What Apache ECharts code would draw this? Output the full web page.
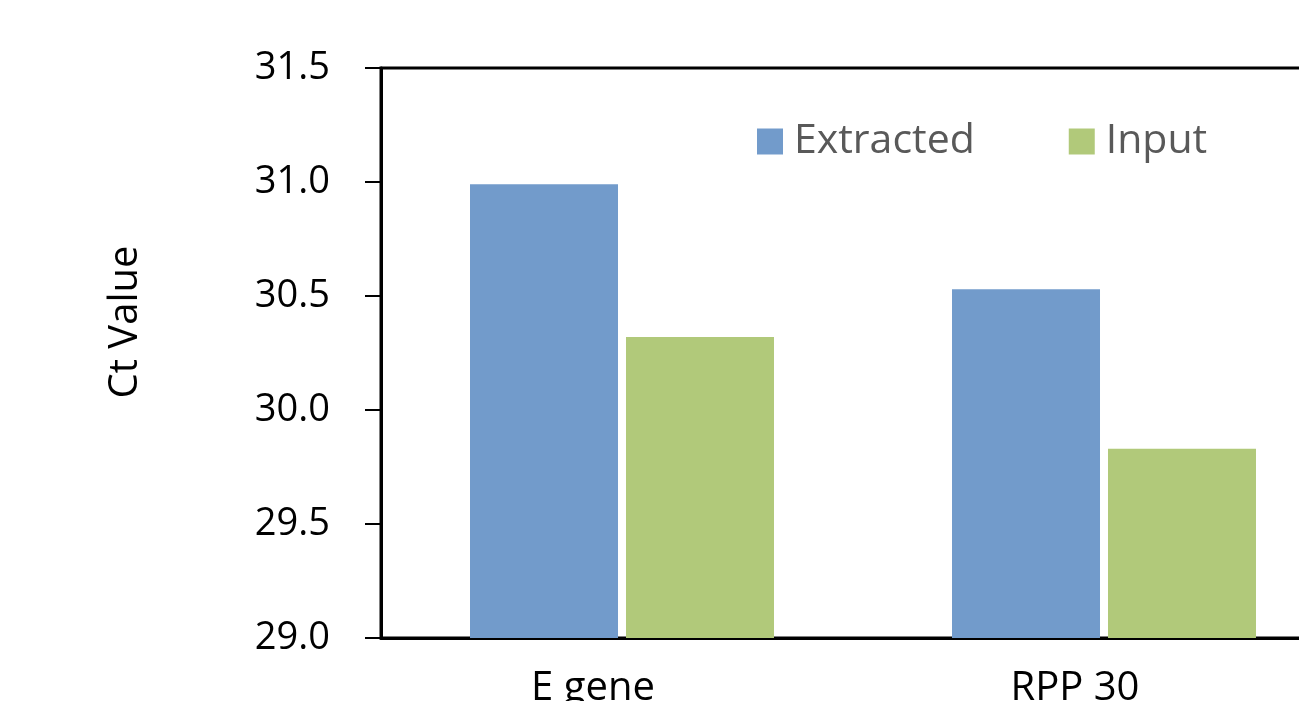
<!DOCTYPE html>
<html>
<head>
<meta charset="utf-8">
<script src="https://cdn.jsdelivr.net/npm/echarts@6/dist/echarts.min.js"></script>
<style>
  html, body { margin: 0; padding: 0; background: #fff; }
  #chart { width: 1299px; height: 701px; }
</style>
</head>
<body>
<div id="chart"></div>
<script>
// values
const categories = ['E gene', 'RPP 30']
const extracted = [30.99, 30.53]
const input = [30.32, 29.83]
const yMin = 29.0
const yMax = 31.5
const yStep = 0.5

const font = '"Open Sans", sans-serif'

const chart = echarts.init(document.getElementById('chart'), null, { renderer: 'canvas' })

chart.setOption({
  animation: false,
  backgroundColor: '#fff',
  grid: {
    left: 381,
    top: 68,
    width: 964,
    height: 570,
    outerBoundsMode: 'none',
    containLabel: false,
    show: true,
    borderColor: '#000',
    borderWidth: 3,
    backgroundColor: 'transparent'
  },
  legend: {
    left: 752,
    top: 116,
    itemWidth: 26,
    itemHeight: 26,
    itemGap: 94,
    icon: 'rect',
    textStyle: {
      fontFamily: font,
      fontSize: 41,
      color: '#595959',
      padding: [0, 0, 0, 6]
    },
    data: ['Extracted', 'Input']
  },
  graphic: [
    {
      type: 'text',
      x: 126,
      y: 322,
      rotation: Math.PI / 2,
      style: {
        text: 'Ct Value',
        fontFamily: font,
        fontSize: 40,
        fill: '#000',
        textAlign: 'center',
        textVerticalAlign: 'middle'
      }
    }
  ],
  xAxis: {
    type: 'category',
    data: categories,
    axisLine: { show: true, lineStyle: { color: '#000', width: 3 } },
    axisTick: { show: false },
    axisLabel: {
      fontFamily: font,
      fontSize: 40,
      color: '#000',
      margin: 31,
      padding: [0, 58, 0, 0]
    },
    splitLine: { show: false }
  },
  yAxis: {
    type: 'value',
    min: yMin,
    max: yMax,
    interval: yStep,
    axisLine: { show: true, lineStyle: { color: '#000', width: 3 } },
    axisTick: { show: true, length: 16, lineStyle: { color: '#000', width: 2 } },
    axisLabel: {
      fontFamily: font,
      fontSize: 38,
      color: '#000',
      margin: 51,
      formatter: v => v.toFixed(1)
    },
    splitLine: { show: false }
  },
  series: [
    {
      name: 'Extracted',
      type: 'bar',
      data: extracted,
      barWidth: 148,
      barGap: '5.4%',
      itemStyle: { color: '#729bcb' }
    },
    {
      name: 'Input',
      type: 'bar',
      data: input,
      barWidth: 148,
      itemStyle: { color: '#b1c97a' }
    }
  ]
})
</script>
</body>
</html>
